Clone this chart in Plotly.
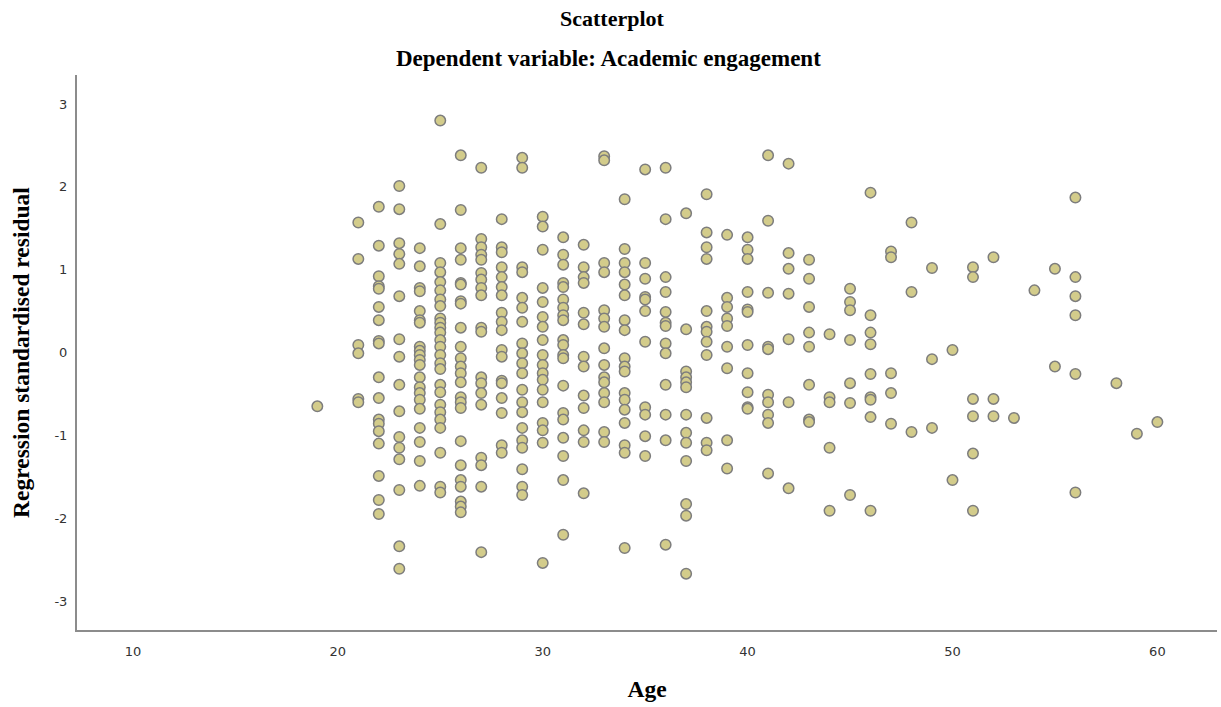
import plotly.graph_objects as go

# Age of each respondent group (x) and the standardised residuals observed at that age (y)
ages = [19, 21, 22, 23, 24, 25, 26, 27, 28, 29, 30, 31, 32, 33, 34, 35, 36, 37, 38, 39,
        40, 41, 42, 43, 44, 45, 46, 47, 48, 49, 50, 51, 52, 53, 54, 55, 56, 58, 59, 60]

residuals_by_age = [
    [-0.65],
    [1.57, 1.13, 0.09, -0.01, -0.56, -0.60],
    [1.76, 1.29, 0.92, 0.80, 0.77, 0.55, 0.39, 0.14, 0.11, -0.30, -0.55, -0.81, -0.86,
     -0.95, -1.10, -1.49, -1.78, -1.95],
    [2.01, 1.73, 1.32, 1.19, 1.07, 0.68, 0.16, -0.05, -0.39, -0.71, -1.02, -1.15, -1.29,
     -1.66, -2.34, -2.61],
    [1.26, 1.04, 0.78, 0.74, 0.50, 0.39, 0.36, 0.07, 0.02, -0.03, -0.09, -0.15, -0.30,
     -0.42, -0.49, -0.57, -0.68, -0.91, -1.08, -1.31, -1.61],
    [2.80, 1.55, 1.08, 0.97, 0.85, 0.75, 0.64, 0.56, 0.41, 0.36, 0.30, 0.24, 0.15, 0.07,
     -0.03, -0.13, -0.20, -0.39, -0.48, -0.63, -0.72, -0.81, -0.91, -1.21, -1.62, -1.69],
    [2.38, 1.72, 1.26, 1.12, 0.84, 0.82, 0.62, 0.59, 0.30, 0.07, -0.07, -0.17, -0.25,
     -0.36, -0.54, -0.60, -0.67, -1.07, -1.36, -1.54, -1.62, -1.80, -1.86, -1.93],
    [2.23, 1.37, 1.27, 1.18, 1.12, 0.96, 0.88, 0.78, 0.69, 0.30, 0.25, -0.30, -0.37,
     -0.49, -0.63, -1.27, -1.36, -1.62, -2.41],
    [1.61, 1.27, 1.21, 1.03, 0.91, 0.79, 0.69, 0.48, 0.37, 0.27, 0.03, -0.05, -0.34,
     -0.37, -0.55, -0.73, -1.12, -1.21],
    [2.35, 2.23, 1.03, 0.97, 0.66, 0.54, 0.37, 0.11, -0.01, -0.13, -0.25, -0.45, -0.60,
     -0.72, -0.91, -1.06, -1.15, -1.41, -1.62, -1.72],
    [1.64, 1.52, 1.24, 0.78, 0.61, 0.43, 0.31, 0.15, -0.03, -0.15, -0.25, -0.33, -0.45,
     -0.60, -0.85, -0.94, -1.09, -2.54],
    [1.39, 1.18, 1.06, 0.84, 0.79, 0.64, 0.54, 0.45, 0.39, 0.15, 0.09, -0.03, -0.07,
     -0.40, -0.73, -0.81, -1.03, -1.25, -1.54, -2.20],
    [1.30, 1.03, 0.91, 0.84, 0.48, 0.34, -0.05, -0.17, -0.52, -0.67, -0.94, -1.08, -1.70],
    [2.37, 2.32, 1.08, 0.97, 0.51, 0.41, 0.31, 0.05, -0.15, -0.30, -0.36, -0.49, -0.60,
     -0.96, -1.08],
    [1.85, 1.25, 1.08, 0.97, 0.82, 0.69, 0.39, 0.27, -0.07, -0.17, -0.23, -0.49, -0.57,
     -0.69, -0.85, -1.12, -1.21, -2.36],
    [2.21, 1.08, 0.89, 0.67, 0.64, 0.50, 0.13, -0.66, -0.75, -1.01, -1.25],
    [2.23, 1.61, 0.91, 0.73, 0.49, 0.36, 0.32, 0.11, -0.01, -0.39, -0.75, -1.06, -2.32],
    [1.68, 0.28, -0.23, -0.30, -0.36, -0.42, -0.75, -0.97, -1.09, -1.31, -1.83, -1.97, -2.67],
    [1.91, 1.45, 1.27, 1.13, 0.50, 0.31, 0.25, 0.13, -0.03, -0.79, -1.09, -1.18],
    [1.42, 0.66, 0.55, 0.41, 0.32, 0.07, -0.19, -1.06, -1.40],
    [1.39, 1.24, 1.13, 0.73, 0.52, 0.49, 0.09, -0.25, -0.48, -0.66, -0.68],
    [2.38, 1.59, 0.72, 0.07, 0.04, -0.51, -0.60, -0.75, -0.85, -1.46],
    [2.28, 1.20, 1.01, 0.71, 0.16, -0.60, -1.64],
    [1.12, 0.89, 0.55, 0.24, 0.07, -0.39, -0.81, -0.84],
    [0.22, -0.54, -0.60, -1.15, -1.91],
    [0.77, 0.61, 0.51, 0.15, -0.37, -0.61, -1.72],
    [1.93, 0.45, 0.24, 0.10, -0.26, -0.54, -0.57, -0.78, -1.91],
    [1.22, 1.15, -0.25, -0.49, -0.86],
    [1.57, 0.73, -0.96],
    [1.02, -0.08, -0.91],
    [0.03, -1.54],
    [1.03, 0.91, -0.56, -0.77, -1.22, -1.91],
    [1.15, -0.56, -0.77],
    [-0.79],
    [0.75],
    [1.01, -0.17],
    [1.87, 0.91, 0.68, 0.45, -0.26, -1.69],
    [-0.37],
    [-0.98],
    [-0.84],
]

x_tick_values = [10, 20, 30, 40, 50, 60]
y_tick_values = [-3, -2, -1, 0, 1, 2, 3]
y_tick_labels = ["-3", "-2", "-1", "0", "1", "2", "3"]

point_x = [a for a, group in zip(ages, residuals_by_age) for _ in group]
point_y = [r for group in residuals_by_age for r in group]

serif = "Liberation Serif"
tick_font = dict(family="DejaVu Sans", size=13, color="#333333")
axis_color = "#8c8c8c"

fig = go.Figure(
    go.Scatter(
        x=point_x,
        y=point_y,
        mode="markers",
        marker=dict(
            size=10.5,
            color="rgb(211,204,139)",
            line=dict(color="rgb(125,125,125)", width=1.5),
        ),
        hovertemplate="Age: %{x}<br>Residual: %{y:.2f}<extra></extra>",
    )
)

fig.update_layout(
    width=1221,
    height=707,
    margin=dict(l=77, r=4, t=75, b=77),
    paper_bgcolor="white",
    plot_bgcolor="white",
    showlegend=False,
    font=dict(family=serif, color="black"),
)

# Two-line heading drawn as paper-anchored text above the plot area
fig.add_annotation(text="<b>Scatterplot</b>", xref="paper", yref="paper",
                   x=0.47, y=1.0, yanchor="middle", yshift=57, showarrow=False,
                   font=dict(family=serif, size=22, color="black"))
fig.add_annotation(text="<b>Dependent variable: Academic engagement</b>", xref="paper",
                   yref="paper", x=0.4665, y=1.0, yanchor="middle", yshift=17, showarrow=False,
                   font=dict(family=serif, size=23, color="black"))

fig.update_xaxes(
    range=[7.27, 62.91],
    tickvals=x_tick_values,
    ticks="outside",
    ticklen=8,
    tickcolor="rgba(0,0,0,0)",
    tickfont=tick_font,
    showgrid=False,
    zeroline=False,
    showline=True,
    linecolor=axis_color,
    linewidth=2,
    title=dict(text="<b>Age</b>", font=dict(family=serif, size=23.5, color="black"), standoff=23),
)

fig.update_yaxes(
    range=[-3.35, 3.35],
    tickvals=y_tick_values,
    ticktext=y_tick_labels,
    ticks="outside",
    ticklen=5,
    tickcolor="rgba(0,0,0,0)",
    tickfont=tick_font,
    showgrid=False,
    zeroline=False,
    showline=True,
    linecolor=axis_color,
    linewidth=2,
    title=dict(text="<b>Regression standardised residual</b>",
               font=dict(family=serif, size=23.5, color="black"), standoff=18),
)

fig.write_html("out.html")
